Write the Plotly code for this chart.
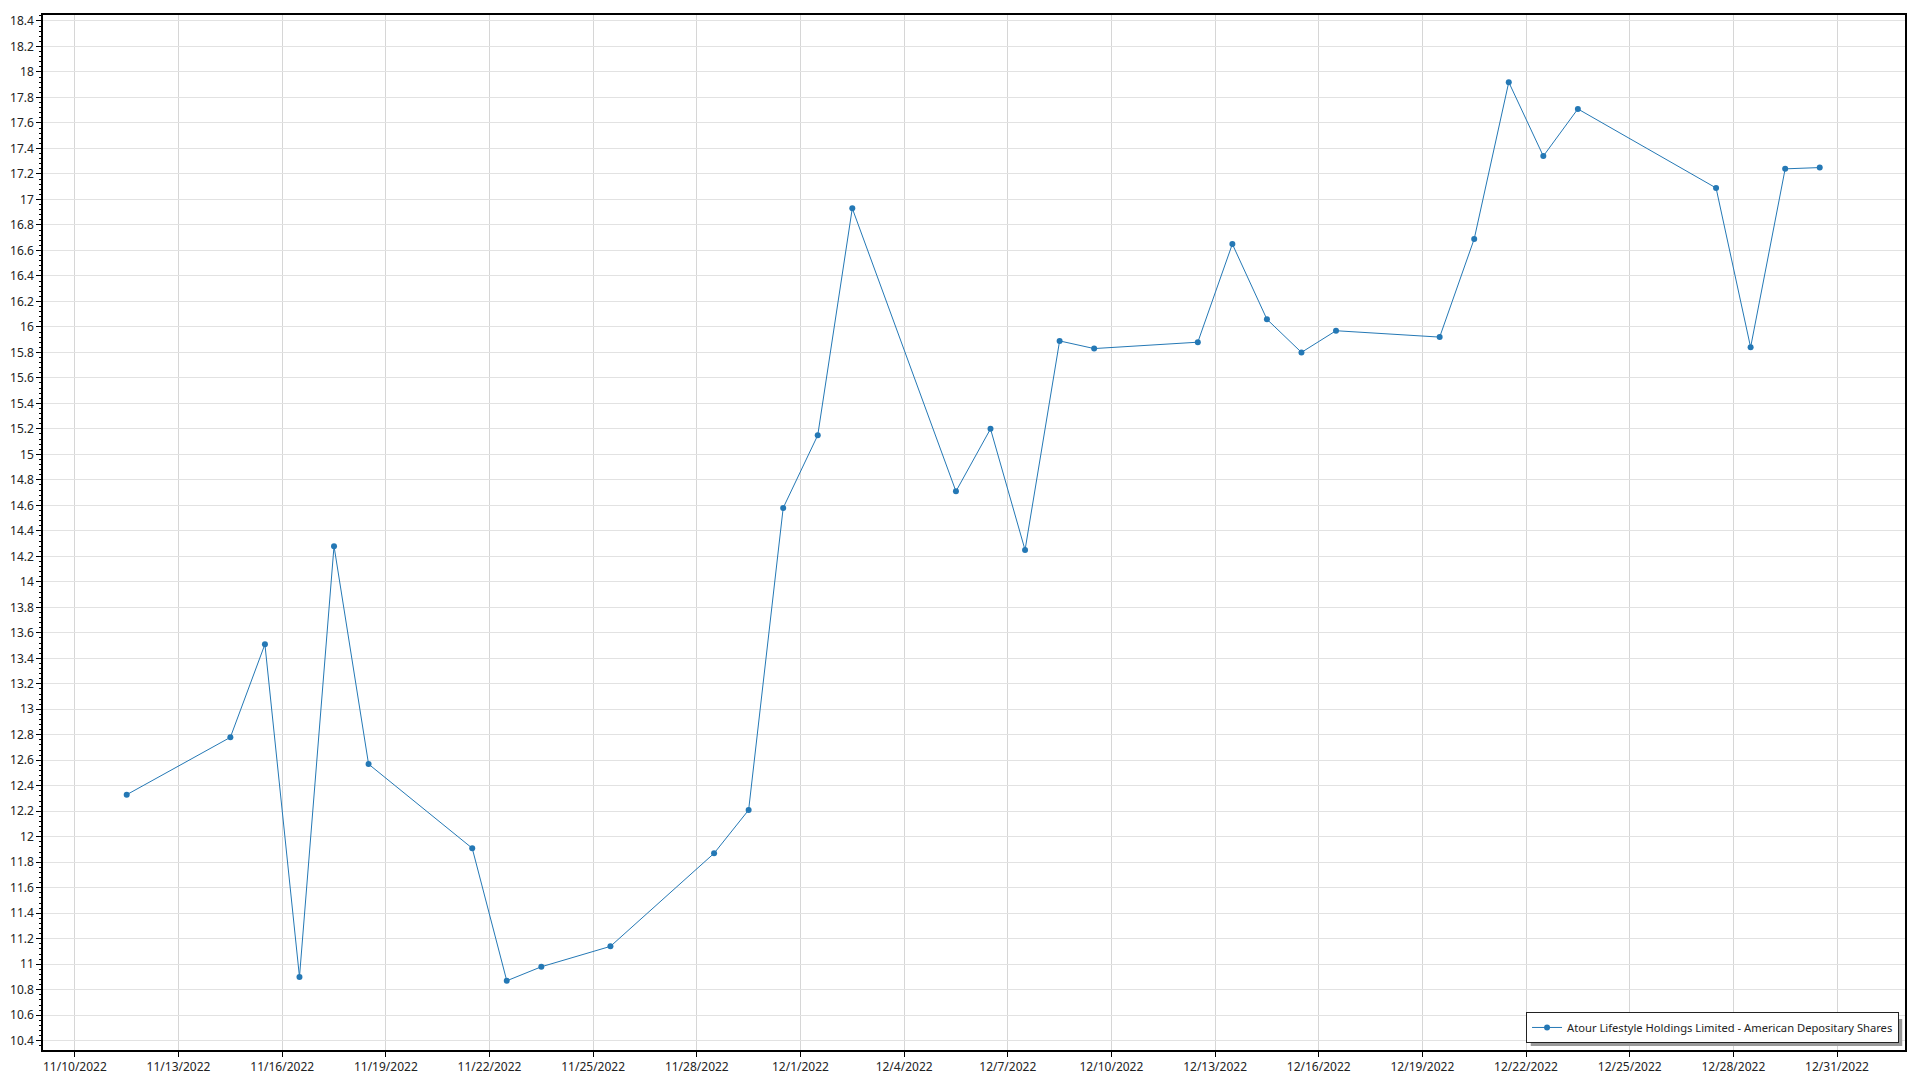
import plotly.graph_objects as go

dates = ["2022-11-11", "2022-11-14", "2022-11-15", "2022-11-16", "2022-11-17", "2022-11-18",
         "2022-11-21", "2022-11-22", "2022-11-23", "2022-11-25", "2022-11-28", "2022-11-29",
         "2022-11-30", "2022-12-01", "2022-12-02", "2022-12-05", "2022-12-06", "2022-12-07",
         "2022-12-08", "2022-12-09", "2022-12-12", "2022-12-13", "2022-12-14", "2022-12-15",
         "2022-12-16", "2022-12-19", "2022-12-20", "2022-12-21", "2022-12-22", "2022-12-23",
         "2022-12-27", "2022-12-28", "2022-12-29", "2022-12-30"]
prices = [12.33, 12.78, 13.51, 10.90, 14.28, 12.57,
          11.91, 10.87, 10.98, 11.14, 11.87, 12.21,
          14.58, 15.15, 16.93, 14.71, 15.20, 14.25,
          15.89, 15.83, 15.88, 16.65, 16.06, 15.80,
          15.97, 15.92, 16.69, 17.92, 17.34, 17.71,
          17.09, 15.84, 17.24, 17.25]
series_name = "Atour Lifestyle Holdings Limited - American Depositary Shares"

x_vals = [d + " 12:00" for d in dates]

fig = go.Figure()
fig.add_trace(go.Scatter(
    x=x_vals, y=prices, mode="lines+markers", name=series_name,
    line=dict(color="#2478b5", width=1),
    marker=dict(color="#2478b5", size=6, symbol="circle"),
))

font = dict(family="Noto Sans, Open Sans, sans-serif", size=12, color="#222222")

fig.update_layout(
    width=1920, height=1080,
    margin=dict(l=35, r=23, t=7, b=38, autoexpand=False),
    paper_bgcolor="white", plot_bgcolor="white",
    font=font,
    showlegend=True,
    legend=dict(
        x=0.9968, xanchor="right", y=0.0068, yanchor="bottom",
        bgcolor="white", bordercolor="#222222", borderwidth=1,
        font=dict(family="Noto Sans, Open Sans, sans-serif", size=11.2, color="#222222"),
        itemwidth=30,
    ),
    shapes=[dict(type="rect", xref="paper", yref="paper",
                 x0=0.7990, x1=0.9985, y0=0.0039, y1=0.0300,
                 fillcolor="#9a9a9a", line=dict(width=0), layer="above")],
)

fig.update_xaxes(
    type="date",
    range=["2022-11-09 01:51", "2023-01-01 23:14"],
    tick0="2022-11-10", dtick=3 * 86400000,
    tickformat="%-m/%-d/%Y",
    showgrid=True, gridcolor="#d6d6d6", gridwidth=1,
    showline=True, linecolor="black", linewidth=1.5, mirror=True,
    ticks="outside", ticklen=5, tickcolor="black",
    zeroline=False, automargin=False,
)
fig.update_yaxes(
    range=[10.327, 18.447],
    tick0=10.4, dtick=0.2,
    showgrid=True, gridcolor="#e2e2e2", gridwidth=1,
    showline=True, linecolor="black", linewidth=1.5, mirror=True,
    ticks="outside", ticklen=5, tickcolor="black",
    minor=dict(dtick=0.04, ticks="outside", ticklen=2, tickcolor="black", showgrid=False),
    zeroline=False, automargin=False,
)

fig.write_html("out.html")
